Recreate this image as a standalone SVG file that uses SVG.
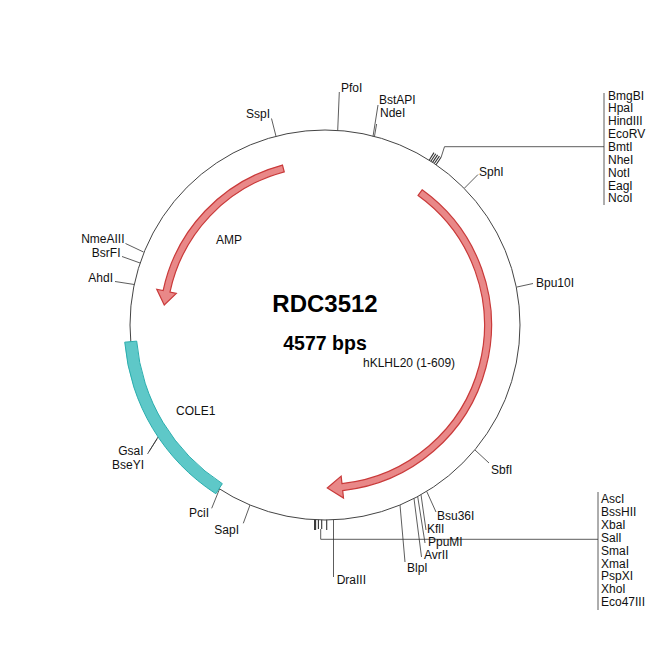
<svg xmlns="http://www.w3.org/2000/svg" width="650" height="650" viewBox="0 0 650 650">
<style>
.bb{fill:none;stroke:#444;stroke-width:1}
.ln{fill:none;stroke:#333;stroke-width:0.8}
.tk{fill:none;stroke:#333;stroke-width:1.1}
.t{font-family:"Liberation Sans",Arial,sans-serif;font-size:12px;fill:#111}
.e{text-anchor:end}
.arw{fill:#e98888;stroke:#c93a3a;stroke-width:1.2}
.ori{fill:#5ec8c8;stroke:#2aaeae;stroke-width:1}
.ttl{font-family:"Liberation Sans",Arial,sans-serif;font-weight:bold;text-anchor:middle;fill:#000}
</style>
<rect width="650" height="650" fill="#fff"/>
<g id="connectors">
  <line class="ln" x1="276" y1="136.3" x2="271.5" y2="118.5"/>
  <line class="ln" x1="337.7" y1="130.6" x2="339.3" y2="92"/>
  <line class="ln" x1="373" y1="136.5" x2="378" y2="105"/>
  <line class="ln" x1="374.4" y1="136.8" x2="376.6" y2="124"/>
  <line class="tk" x1="429.2" y1="160.2" x2="434.0" y2="152.6"/>
  <line class="tk" x1="430.9" y1="161.3" x2="435.8" y2="153.7"/>
  <line class="tk" x1="432.6" y1="162.4" x2="437.6" y2="154.9"/>
  <line class="tk" x1="434.3" y1="163.5" x2="439.4" y2="156.1"/>
  <line class="tk" x1="436.0" y1="164.7" x2="441.1" y2="157.3"/>
  <polyline class="ln" points="441.1,157.3 444.5,146.7 604,146.7"/>
  <line class="ln" x1="604" y1="93" x2="604" y2="205"/>
  <line class="ln" x1="464.6" y1="188" x2="478" y2="174.5"/>
  <line class="ln" x1="517" y1="287" x2="533" y2="283.5"/>
  <line class="ln" x1="475" y1="450" x2="489" y2="463"/>
  <line class="ln" x1="426.7" y1="491.4" x2="436" y2="512"/>
  <line class="ln" x1="421" y1="494.7" x2="426" y2="530"/>
  <line class="ln" x1="417.7" y1="496.6" x2="425" y2="543"/>
  <line class="ln" x1="414" y1="498.5" x2="421.5" y2="557"/>
  <line class="ln" x1="400" y1="505" x2="405" y2="562"/>
  <line class="ln" x1="333.5" y1="519.8" x2="333.5" y2="577"/>
  <line class="tk" x1="314.6" y1="519.6" x2="314.6" y2="530"/>
  <line class="tk" x1="315.6" y1="519.6" x2="315.6" y2="530"/>
  <line class="tk" x1="318.4" y1="519.7" x2="318.4" y2="529"/>
  <line class="tk" x1="321.7" y1="519.8" x2="321.7" y2="529"/>
  <line class="tk" x1="326.7" y1="519.8" x2="326.7" y2="530"/>
  <polyline class="ln" points="320.7,529 320.7,539.3 598,539.3"/>
  <line class="ln" x1="598" y1="492" x2="598" y2="610"/>
  <line class="ln" x1="250" y1="505" x2="243.3" y2="523.3"/>
  <line class="ln" x1="219.5" y1="489" x2="211.7" y2="508.3"/>
  <line class="ln" x1="158" y1="437" x2="147.5" y2="454"/>
  <line class="ln" x1="157.3" y1="438.6" x2="149" y2="451.5"/>
  <line class="ln" x1="134.3" y1="284.5" x2="115" y2="281.5"/>
  <line class="ln" x1="140.1" y1="263" x2="122" y2="256.5"/>
  <line class="ln" x1="143.5" y1="252" x2="125.5" y2="243.5"/>
</g>
<g id="backbone">
  <circle class="bb" cx="325" cy="325" r="195"/>
</g>
<g id="COLE1">
  <path class="ori" d="M215.82,493.76 A201,201 0 0 1 124.73,342.17 L136.69,341.14 A189,189 0 0 0 222.34,483.68 Z"/>
  <text class="t" x="176" y="415">COLE1</text>
</g>
<g id="AMP">
  <path class="arw" d="M282.45,165.06 A165.5,165.5 0 0 0 163.12,290.59 L156.77,289.24 L164.25,304.98 L176.33,293.40 L169.97,292.05 A158.5,158.5 0 0 1 284.25,171.83 Z"/>
  <text class="t" x="216" y="244">AMP</text>
</g>
<g id="hKLHL20">
  <path class="arw" d="M422.15,189.79 A166.5,166.5 0 0 1 342.70,490.55 L343.50,498.01 L327.28,487.98 L341.16,476.13 L341.95,483.59 A159.5,159.5 0 0 0 418.07,195.47 Z"/>
  <text class="t" x="363" y="367">hKLHL20 (1-609)</text>
</g>
<g id="title">
  <text class="ttl" x="325" y="311.5" font-size="24">RDC3512</text>
  <text class="ttl" x="325" y="350" font-size="19.5">4577 bps</text>
</g>
<g id="site-SspI"><text class="t e" x="270" y="117.5">SspI</text></g>
<g id="site-PfoI"><text class="t" x="341" y="91.5">PfoI</text></g>
<g id="site-BstAPI-NdeI"><text class="t" x="379" y="104">BstAPI</text><text class="t" x="380" y="117">NdeI</text></g>
<g id="site-MCS1">
  <text class="t" x="608" y="99.5">BmgBI</text>
  <text class="t" x="608" y="112.4">HpaI</text>
  <text class="t" x="608" y="125.2">HindIII</text>
  <text class="t" x="608" y="138.1">EcoRV</text>
  <text class="t" x="608" y="151">BmtI</text>
  <text class="t" x="608" y="163.8">NheI</text>
  <text class="t" x="608" y="176.7">NotI</text>
  <text class="t" x="608" y="189.5">EagI</text>
  <text class="t" x="608" y="202.4">NcoI</text>
</g>
<g id="site-SphI"><text class="t" x="479" y="175.5">SphI</text></g>
<g id="site-Bpu10I"><text class="t" x="536" y="286.5">Bpu10I</text></g>
<g id="site-SbfI"><text class="t" x="491" y="474">SbfI</text></g>
<g id="site-Bsu36I"><text class="t" x="437" y="520">Bsu36I</text></g>
<g id="site-KflI"><text class="t" x="427" y="533">KflI</text></g>
<g id="site-PpuMI"><text class="t" x="428" y="545.7">PpuMI</text></g>
<g id="site-AvrII"><text class="t" x="424" y="559.3">AvrII</text></g>
<g id="site-BlpI"><text class="t" x="407" y="571.7">BlpI</text></g>
<g id="site-DraIII"><text class="t" x="336.7" y="584">DraIII</text></g>
<g id="site-MCS2">
  <text class="t" x="601" y="503.3">AscI</text>
  <text class="t" x="601" y="516.2">BssHII</text>
  <text class="t" x="601" y="529">XbaI</text>
  <text class="t" x="601" y="541.9">SalI</text>
  <text class="t" x="601" y="554.7">SmaI</text>
  <text class="t" x="601" y="567.6">XmaI</text>
  <text class="t" x="601" y="580.4">PspXI</text>
  <text class="t" x="601" y="593.3">XhoI</text>
  <text class="t" x="601" y="606.1">Eco47III</text>
</g>
<g id="site-SapI"><text class="t" x="214.3" y="534">SapI</text></g>
<g id="site-PciI"><text class="t e" x="209" y="517.3">PciI</text></g>
<g id="site-GsaI-BseYI"><text class="t e" x="143.5" y="455">GsaI</text><text class="t e" x="144" y="469">BseYI</text></g>
<g id="site-AhdI"><text class="t e" x="113" y="282">AhdI</text></g>
<g id="site-BsrFI"><text class="t e" x="120.5" y="257">BsrFI</text></g>
<g id="site-NmeAIII"><text class="t e" x="124.5" y="243">NmeAIII</text></g>
</svg>
